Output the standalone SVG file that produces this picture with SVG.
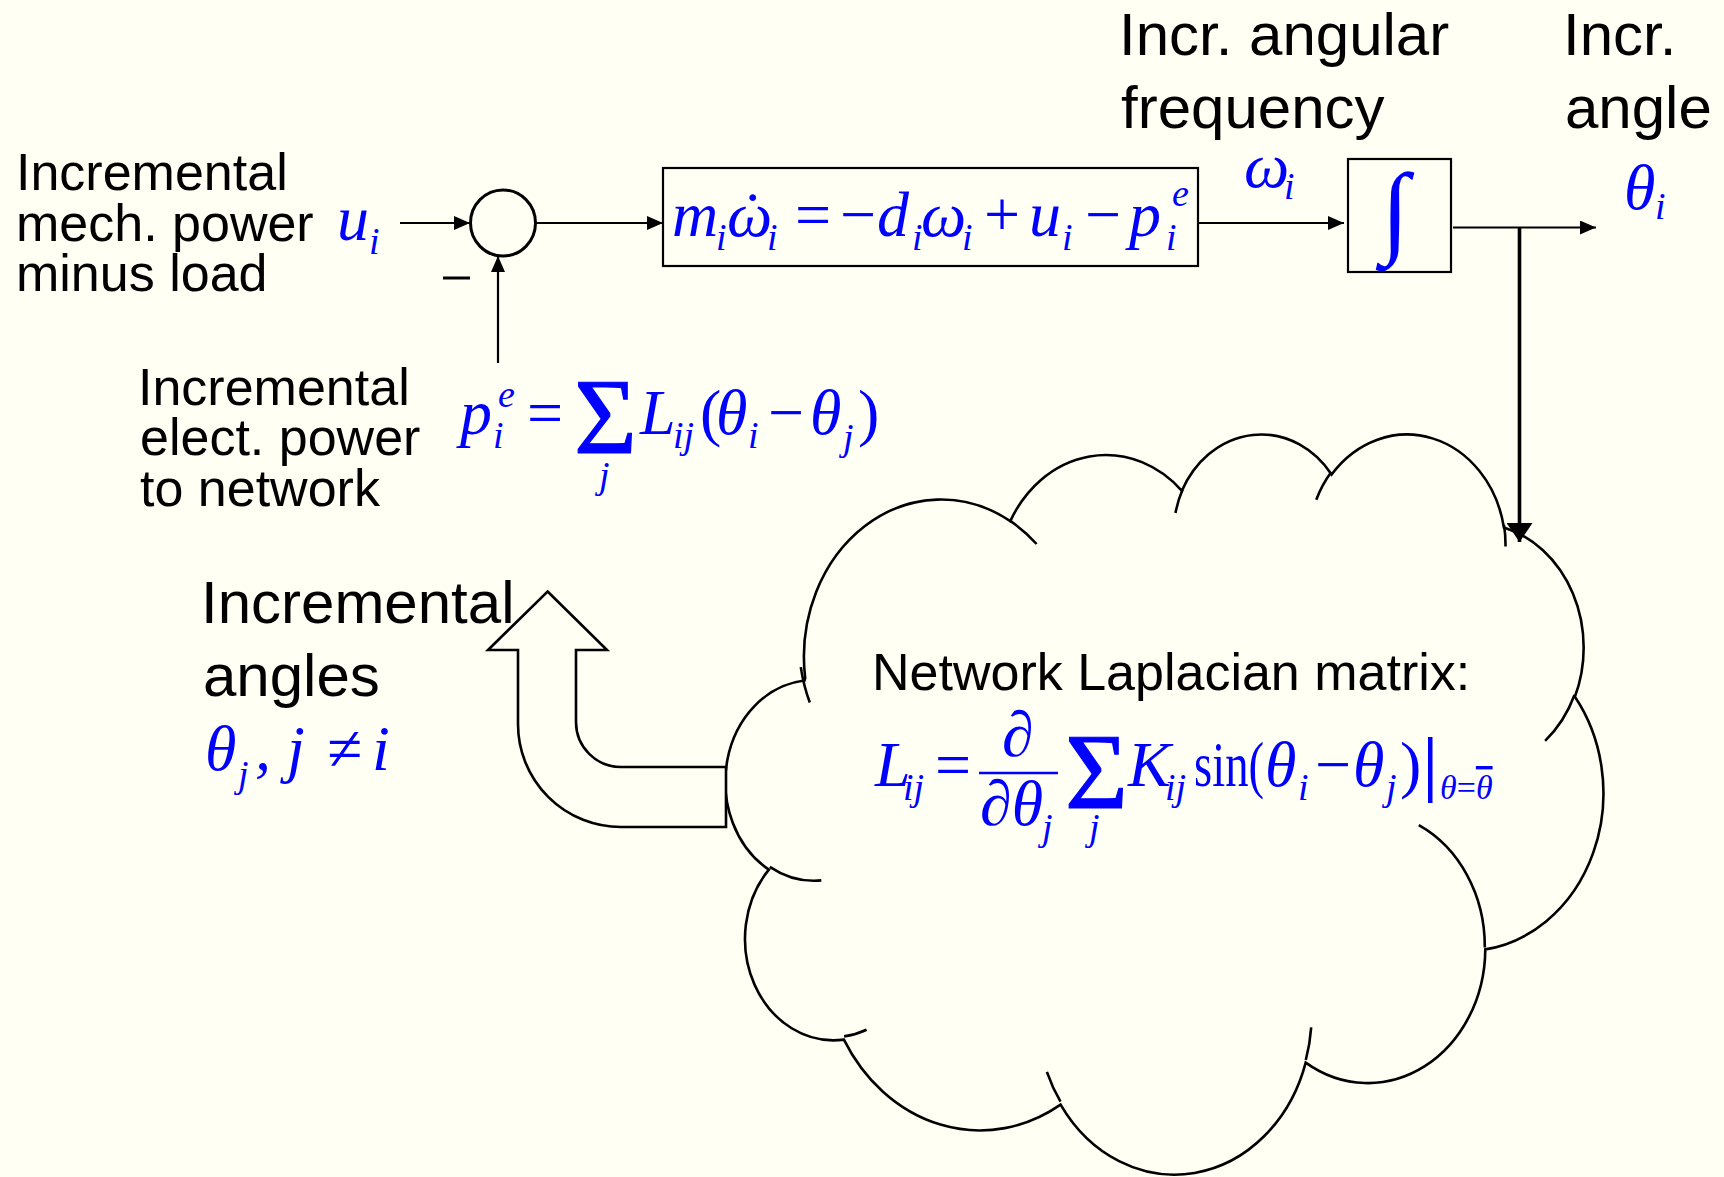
<svg xmlns="http://www.w3.org/2000/svg" width="1724" height="1177" viewBox="0 0 1724 1177">
<defs>
<style>
.lbl{font-family:"Liberation Sans",Arial,sans-serif;fill:#000;}
.s52{font-size:52px;}
.s60{font-size:60px;}
.m{font-family:"Liberation Serif","Times New Roman",serif;fill:#0000ff;font-style:italic;font-size:64px;}
.sub{font-size:38px;}
.up{font-style:normal;}
.big{font-style:normal;font-size:108px;stroke:#0000ff;stroke-width:1.2;}
.ln{stroke:#000;stroke-width:2.2;fill:none;}
.box{stroke:#000;stroke-width:2.2;fill:none;}
.outline{stroke:#000;stroke-width:2.6;fill:#fffff3;}
.mark{stroke:#000;stroke-width:2.6;fill:none;}
</style>
<marker id="ah" markerUnits="userSpaceOnUse" viewBox="0 0 16 14" refX="16" refY="7" markerWidth="16" markerHeight="14" orient="auto"><path d="M0,0L16,7L0,14Z" fill="#000"/></marker>
<marker id="ahBig" markerUnits="userSpaceOnUse" viewBox="0 0 19 26" refX="19" refY="13" markerWidth="19" markerHeight="26" orient="auto"><path d="M0,0L19,13L0,26Z" fill="#000"/></marker>
</defs>
<rect width="1724" height="1177" fill="#fffff3"/>

<!-- network cloud -->
<g id="network">
<path class="outline" d="M805.2,678.2A137.1,157.4 0 0 1 1010.3,521.1A108.3,124.5 0 0 1 1181.9,490.8A88.6,101.8 0 0 1 1331.6,474.5A98.6,113 0 0 1 1503.9,527.5A108.3,124.6 0 0 1 1574.9,696.8A137.5,157.9 0 0 1 1485.3,949.4A117.4,134.8 0 0 1 1305.7,1062.6A137.1,157.9 0 0 1 1060.6,1104.6A156.7,180.6 0 0 1 843.9,1039.6A88.5,101.4 0 0 1 768.9,869.6A88.2,101.8 0 0 1 804.5,680.5Z"/>
<path class="mark" d="M821.3,880.4A88.2,101.8 0 0 1 769.8,866.8M866.6,1029.8A88.5,101.4 0 0 1 844.1,1036.4M1060.5,1101.6A137.1,157.9 0 0 1 1046.9,1071.8M1311.2,1027.3A137.1,157.9 0 0 1 1305.8,1060M1418.8,825.2A117.4,134.8 0 0 1 1484.8,947.4M1574.5,695A108.3,124.6 0 0 1 1545.1,740.9M1504,524.9A98.6,113 0 0 1 1505.5,546.6M1316.3,499.7A98.6,113 0 0 1 1331.3,472.1M1175.5,512.9A88.6,101.8 0 0 1 1182.8,489M1010.2,520.9A137.1,157.4 0 0 1 1036.6,544M809.8,702.5A137.1,157.4 0 0 1 800.8,667.1"/>
<text class="lbl s52" x="872" y="690">Network Laplacian matrix:</text>
<text class="m"><tspan x="875" y="786">L</tspan><tspan class="sub" x="903" y="800">ij</tspan><tspan class="up" x="935" y="786">=</tspan><tspan x="1002" y="756">∂</tspan><tspan x="980" y="825">∂θ</tspan><tspan class="sub" x="1042" y="840">j</tspan><tspan class="big" x="1065" y="808">Σ</tspan><tspan class="sub" x="1089" y="840">j</tspan><tspan x="1128" y="786">K</tspan><tspan class="sub" x="1165" y="800">ij</tspan></text>
<text class="m up" x="1194" y="786" textLength="70" lengthAdjust="spacingAndGlyphs">sin(</text>
<text class="m"><tspan x="1265" y="786">θ</tspan><tspan class="sub" x="1298" y="800">i</tspan><tspan class="up" x="1315" y="786">−</tspan><tspan x="1353" y="786">θ</tspan><tspan class="sub" x="1386" y="800">j</tspan><tspan class="up" x="1400" y="786">)</tspan><tspan x="1440" y="799" style="font-size:34px">θ</tspan><tspan class="up" style="font-size:34px">=</tspan><tspan style="font-size:34px;text-decoration:overline">θ</tspan></text>
<line x1="979" y1="773" x2="1058" y2="773" stroke="#0000ff" stroke-width="2.6"/>
<rect x="1428" y="737" width="4.5" height="66" fill="#0000ff"/>
</g>

<!-- incremental angles fed back from the network -->
<g id="feedback-arrow">
<path class="outline" d="M547.6,591.5L607,650L576,650L576,722A45,45 0 0 0 621,767L726,767L726,827L621,827A103,103 0 0 1 518,724L518,650L488,650Z"/>
</g>
<g id="angles-label">
<text class="lbl s60" x="201" y="623">Incremental</text>
<text class="lbl s60" x="203" y="696">angles</text>
<text class="m"><tspan x="205" y="770">θ</tspan><tspan class="sub" x="238" y="787">j</tspan><tspan x="255" y="770">,</tspan><tspan x="287" y="770">j</tspan><tspan class="up" x="327" y="770">≠</tspan><tspan x="372" y="770">i</tspan></text>
</g>

<!-- mechanical power input -->
<g id="input-label">
<text class="lbl s52" x="16" y="190">Incremental</text>
<text class="lbl s52" x="16" y="241">mech. power</text>
<text class="lbl s52" x="16" y="291">minus load</text>
<text class="m"><tspan x="337" y="240">u</tspan><tspan class="sub" x="369" y="254">i</tspan></text>
</g>

<!-- summing junction -->
<g id="sum">
<ellipse cx="503" cy="223" rx="32.5" ry="33" fill="none" stroke="#000" stroke-width="3"/>
<line x1="443" y1="278" x2="470" y2="278" stroke="#000" stroke-width="3"/>
</g>

<!-- swing dynamics -->
<g id="swing">
<rect class="box" x="663" y="168" width="535" height="98"/>
<text class="m"><tspan x="672" y="236">m</tspan><tspan class="sub" x="716" y="250">i</tspan><tspan x="727" y="236">ω</tspan><tspan class="up" x="742" y="236">˙</tspan><tspan class="sub" x="767" y="250">i</tspan><tspan class="up" x="795" y="236">=</tspan><tspan class="up" x="840" y="236">−</tspan><tspan x="877" y="236">d</tspan><tspan class="sub" x="912" y="250">i</tspan><tspan x="921" y="236">ω</tspan><tspan class="sub" x="962" y="250">i</tspan><tspan class="up" x="984" y="236">+</tspan><tspan x="1029" y="236">u</tspan><tspan class="sub" x="1062" y="250">i</tspan><tspan class="up" x="1085" y="236">−</tspan><tspan x="1129" y="236">p</tspan><tspan class="sub" x="1166" y="250">i</tspan><tspan class="sub" x="1172" y="206">e</tspan></text>
</g>

<g id="freq-label">
<text class="lbl s60" x="1119" y="55">Incr. angular</text>
<text class="lbl s60" x="1121" y="128">frequency</text>
<text class="m"><tspan x="1244" y="187">ω</tspan><tspan class="sub" x="1284" y="199">i</tspan></text>
</g>

<!-- integrator -->
<g id="integrator">
<rect class="box" x="1348" y="159" width="103" height="113"/>
<text class="m up" x="1381" y="244" style="font-size:102px">∫</text>
</g>

<g id="angle-label">
<text class="lbl s60" x="1563" y="55">Incr.</text>
<text class="lbl s60" x="1565" y="128">angle</text>
<text class="m"><tspan x="1624" y="209">θ</tspan><tspan class="sub" x="1655" y="219">i</tspan></text>
</g>

<!-- electrical power to network -->
<g id="elec-label">
<text class="lbl s52" x="138" y="405">Incremental</text>
<text class="lbl s52" x="140" y="455">elect. power</text>
<text class="lbl s52" x="140" y="506">to network</text>
<text class="m"><tspan x="460" y="434">p</tspan><tspan class="sub" x="498" y="407">e</tspan><tspan class="sub" x="493" y="448">i</tspan><tspan class="up" x="527" y="434">=</tspan><tspan class="big" x="574" y="453">Σ</tspan><tspan class="sub" x="599" y="488">j</tspan><tspan x="640" y="434">L</tspan><tspan class="sub" x="673" y="448">ij</tspan><tspan class="up" x="700" y="434">(</tspan><tspan x="716" y="434">θ</tspan><tspan class="sub" x="748" y="448">i</tspan><tspan class="up" x="768" y="434">−</tspan><tspan x="810" y="434">θ</tspan><tspan class="sub" x="843" y="450">j</tspan><tspan class="up" x="858" y="434">)</tspan></text>
</g>

<!-- signal lines -->
<g id="connectors">
<line class="ln" x1="400" y1="223" x2="470" y2="223" marker-end="url(#ah)"/>
<line class="ln" x1="498" y1="363" x2="498" y2="256" marker-end="url(#ah)"/>
<line class="ln" x1="535.5" y1="223" x2="663" y2="223" marker-end="url(#ah)"/>
<line class="ln" x1="1198" y1="223" x2="1344" y2="223" marker-end="url(#ah)"/>
<line class="ln" x1="1453" y1="227.5" x2="1596" y2="227.5" marker-end="url(#ah)"/>
<line x1="1519.5" y1="227.5" x2="1519.5" y2="542" stroke="#000" stroke-width="3.6" marker-end="url(#ahBig)"/>
</g>
</svg>
